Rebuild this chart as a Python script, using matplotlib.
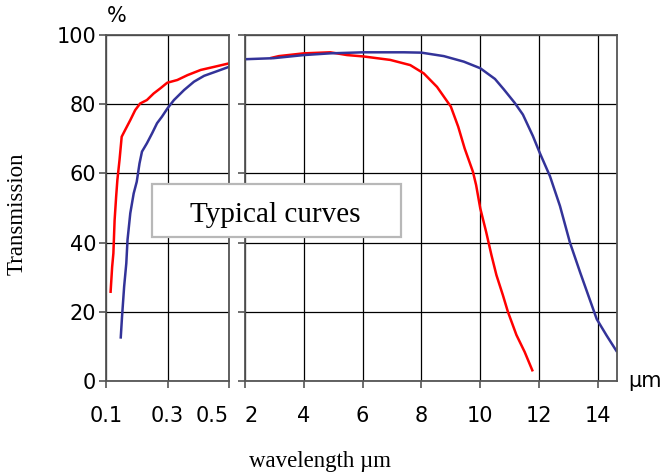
import matplotlib
matplotlib.use("Agg")
import matplotlib.pyplot as plt
from matplotlib.patches import Rectangle

# UV / visible part (left panel)
uv_wl_red = [0.115, 0.12, 0.124, 0.128, 0.133, 0.137, 0.144, 0.151, 0.162, 0.179, 0.195, 0.211,
             0.233, 0.255, 0.277, 0.299, 0.332, 0.365, 0.408, 0.452, 0.5]
uv_tr_red = [25.8, 33.0, 36.9, 46.5, 53.3, 58.1, 63.9, 70.6, 72.5, 75.4, 78.3, 80.2,
             81.2, 83.1, 84.6, 86.2, 87.0, 88.4, 89.9, 90.8, 91.8]
uv_wl_blue = [0.148, 0.152, 0.159, 0.166, 0.17, 0.179, 0.19, 0.2, 0.209, 0.217, 0.233, 0.25,
              0.266, 0.282, 0.3, 0.321, 0.354, 0.386, 0.419, 0.463, 0.5]
uv_tr_blue = [12.6, 18.4, 27.3, 34.0, 40.8, 48.5, 54.2, 57.6, 62.9, 66.3, 68.7, 71.6,
              74.5, 76.4, 78.8, 81.2, 84.1, 86.5, 88.2, 89.6, 90.8]

# IR part (right panel)
ir_wl_red = [2.9, 3.15, 4.0, 4.9, 5.47, 6.03, 6.94, 7.62, 8.08, 8.53, 9.0, 9.25, 9.47, 9.75,
             9.86, 10.0, 10.2, 10.38, 10.55, 10.77, 10.94, 11.23, 11.51, 11.77]
ir_tr_red = [93.4, 93.9, 94.7, 95.0, 94.2, 93.8, 92.8, 91.3, 88.9, 85.0, 79.3, 73.5, 67.2, 60.5,
             56.6, 49.9, 43.1, 36.4, 30.6, 24.8, 20.0, 13.3, 8.4, 3.1]
ir_wl_blue = [2.0, 2.97, 4.0, 4.9, 6.03, 7.4, 8.0, 8.76, 9.44, 10.0, 10.5, 10.8, 11.17, 11.45,
              11.79, 12.02, 12.37, 12.71, 13.05, 13.4, 13.68, 13.96, 14.3, 14.63]
ir_tr_blue = [93.0, 93.3, 94.2, 94.7, 95.0, 95.0, 94.9, 93.9, 92.3, 90.4, 87.3, 84.3, 80.4, 77.0,
              70.8, 66.0, 59.2, 50.6, 40.0, 31.3, 24.6, 17.9, 13.1, 8.7]

uv_ticks = [0.1, 0.3, 0.5]
ir_ticks = [2, 4, 6, 8, 10, 12, 14]
y_ticks = [0, 20, 40, 60, 80, 100]

RED = "#ff0000"
BLUE = "#333399"
SPINE = "#555555"

W, H = 661, 474
fig = plt.figure(figsize=(W / 100, H / 100), dpi=100)

ax1 = fig.add_axes([106 / W, 1 - 381 / H, 123 / W, 346 / H])
ax2 = fig.add_axes([245 / W, 1 - 381 / H, 372 / W, 346 / H])

for ax in (ax1, ax2):
    ax.set_ylim(0, 100)
    ax.set_yticks(y_ticks)
    ax.grid(True, color="black", linewidth=0.9)
    ax.set_axisbelow(True)
    for s in ax.spines.values():
        s.set_color(SPINE)
        s.set_linewidth(1.3)
    ax.tick_params(axis="both", direction="out", length=5, width=1.2, color=SPINE,
                   labelsize=15, pad=2)
    ax.tick_params(axis="x", pad=13)

ax1.plot(uv_wl_blue, uv_tr_blue, color=BLUE, lw=1.8)
ax1.plot(uv_wl_red, uv_tr_red, color=RED, lw=1.8)
ax1.set_xlim(0.1, 0.5)
ax1.set_xticks(uv_ticks)
ax1.set_xticklabels(["0.1", "0.3", "0.5"])
ax1.get_xticklabels()[-1].set_ha("right")

ax2.plot(ir_wl_red, ir_tr_red, color=RED, lw=1.8)
ax2.plot(ir_wl_blue, ir_tr_blue, color=BLUE, lw=1.8)
ax2.set_xlim(2, 14.65)
ax2.set_xticks(ir_ticks)
ax2.set_yticklabels([])
ax2.get_xticklabels()[0].set_ha("left")

# text box over both panels
fig.add_artist(Rectangle((152 / W, 1 - 237 / H), 249 / W, 53 / H, transform=fig.transFigure,
                         facecolor="white", edgecolor="#b8b8b8", linewidth=1.6, zorder=5))
fig.text(275 / W, 1 - 222 / H, "Typical curves", ha="center", va="baseline",
         family="Liberation Serif", fontsize=21, zorder=6)

fig.text(107 / W, 1 - 16 / H, "%", ha="left", va="center", fontsize=15)
fig.text(628 / W, 1 - 381 / H, "µm", ha="left", va="center", fontsize=15)
fig.text(17 / W, 1 - 214 / H, "Transmission", rotation=90, ha="center", va="center",
         family="Liberation Serif", fontsize=16.5)
fig.text(320 / W, 1 - 462 / H, "wavelength µm", ha="center", va="center",
         family="Liberation Serif", fontsize=16.5)

fig.savefig("out.png", dpi=100)
